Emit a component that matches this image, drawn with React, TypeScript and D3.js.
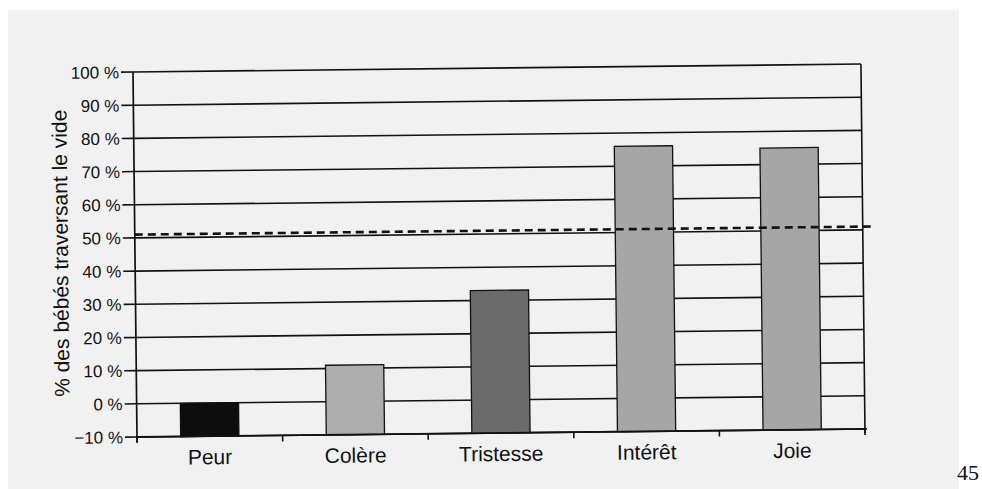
import React from "react";
import * as d3 from "d3";

const categories = ["Peur", "Colère", "Tristesse", "Intérêt", "Joie"];
const values = [0, 11, 33, 76, 75];
const barColors = ["#0d0d0d", "#adadad", "#6b6b6b", "#a6a6a6", "#a6a6a6"];
const yTicks = [-10, 0, 10, 20, 30, 40, 50, 60, 70, 80, 90, 100];
const referenceLevel = 51;
const yTitle = "% des bébés traversant le vide";
const pageNumber = "45";

const W = 982;
const H = 489;

export default function App() {
  const x = d3
    .scaleBand<string>()
    .domain(categories)
    .range([137, 865])
    .paddingInner(0.6)
    .paddingOuter(0.3);
  const y = d3.scaleLinear().domain([-10, 100]).range([437, 72]);
  const step = x.step();
  const bounds = categories.map((c) => (x(c) as number) - (step * 0.6) / 2);
  bounds.push(865);
  const x0 = 137;
  const x1 = 865;
  const font = "'Liberation Sans', Arial, Helvetica, sans-serif";
  const ink = "#111";

  return (
    <svg
      width={W}
      height={H}
      style={{ position: "absolute", left: 0, top: 0, background: "#fff" }}
    >
      <rect x={8} y={10} width={951} height={H - 10} fill="#f1f1f1" />
      <g transform={`rotate(-0.63, ${x0}, ${y(-10)})`}>
        {yTicks.map((t) => (
          <line
            key={"g" + t}
            x1={x0}
            x2={x1}
            y1={y(t)}
            y2={y(t)}
            stroke={ink}
            strokeWidth={1.6}
          />
        ))}
        <line x1={x1} x2={x1} y1={y(100)} y2={y(-10) + 4} stroke={ink} strokeWidth={1.6} />
        {categories.map((c, i) => (
          <rect
            key={c}
            x={x(c)}
            width={x.bandwidth()}
            y={y(values[i])}
            height={y(-10) - y(values[i])}
            fill={barColors[i]}
            stroke="#111"
            strokeWidth={1.3}
          />
        ))}
        <line
          x1={x0}
          x2={x1 + 11}
          y1={y(referenceLevel)}
          y2={y(referenceLevel)}
          stroke="#111"
          strokeWidth={2.6}
          strokeDasharray="8 5"
        />
        <line x1={x0} x2={x0} y1={y(100)} y2={y(-10) + 5} stroke={ink} strokeWidth={1.7} />
        {yTicks.map((t) => (
          <g key={"t" + t}>
            <line x1={x0 - 12} x2={x0} y1={y(t)} y2={y(t)} stroke={ink} strokeWidth={1.6} />
            <text
              x={x0 - 14}
              y={y(t)}
              dy="0.36em"
              textAnchor="end"
              fontFamily={font}
              fontSize={17}
              fill={ink}
            >
              {(t < 0 ? "\u2212" + Math.abs(t) : String(t)) + " %"}
            </text>
          </g>
        ))}
        <line x1={x0} x2={x1 + 2} y1={y(-10)} y2={y(-10)} stroke={ink} strokeWidth={1.8} />
        {bounds.map((b, i) => (
          <line key={"xt" + i} x1={b} x2={b} y1={y(-10)} y2={y(-10) + 6} stroke={ink} strokeWidth={1.6} />
        ))}
        {categories.map((c) => (
          <text
            key={"l" + c}
            x={(x(c) as number) + x.bandwidth() / 2}
            y={y(-10) + 28}
            textAnchor="middle"
            fontFamily={font}
            fontSize={21}
            fill={ink}
          >
            {c}
          </text>
        ))}
        <text
          transform={`translate(70, ${(y(100) + y(-10)) / 2 - 2}) rotate(-90)`}
          textAnchor="middle"
          fontFamily={font}
          fontSize={21}
          fill={ink}
        >
          {yTitle}
        </text>
      </g>
      <text x={957} y={480} fontFamily="'Liberation Serif', 'Times New Roman', serif" fontSize={22} fill="#111">
        {pageNumber}
      </text>
    </svg>
  );
}
